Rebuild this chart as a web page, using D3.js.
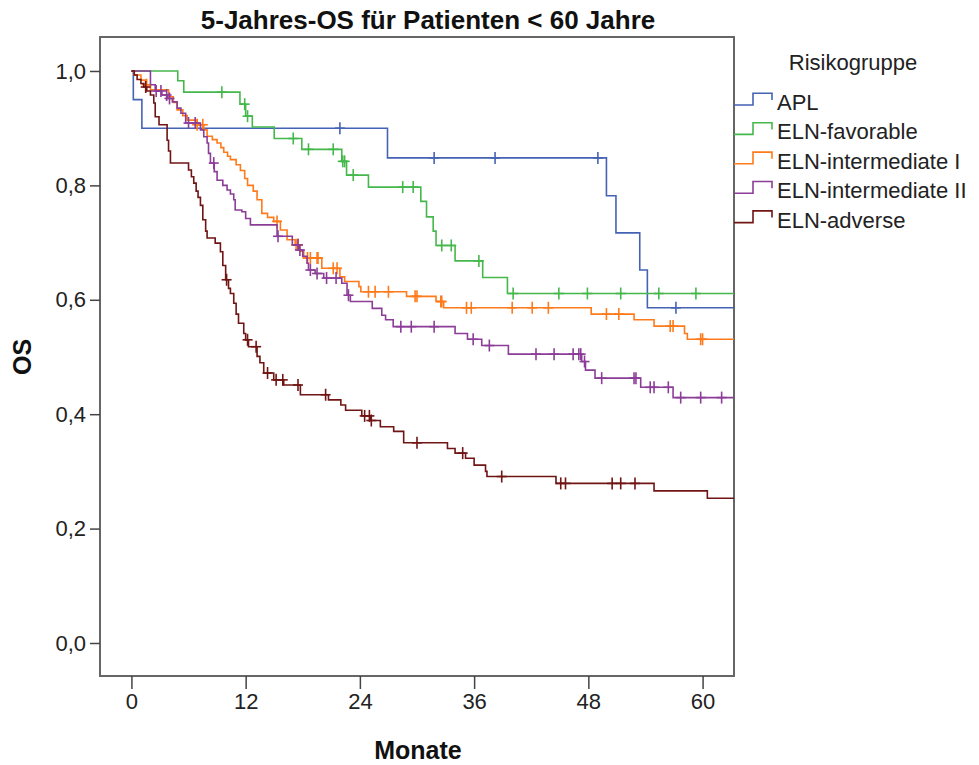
<!DOCTYPE html>
<html lang="de">
<head>
  <meta charset="UTF-8">
  <title>5-Jahres-OS für Patienten &lt; 60 Jahre</title>
  <script src="https://d3js.org/d3.v7.min.js"></script>
  <style>
    body { margin: 0; background: #fff; font-family: 'Liberation Sans', Arial, sans-serif; }
    .axis text { font-size: 22px; fill: #222; }
    .axis path, .axis line { stroke: #444; stroke-width: 1.5; }
    .title { font-size: 26px; font-weight: bold; fill: #111; }
    .axis-title { font-size: 25px; font-weight: bold; fill: #111; }
    .legend text { font-size: 22px; fill: #222; }
  </style>
</head>
<body>
<svg id="chart" width="979" height="765"></svg>
<script>
// Risikogruppen
const groups = ["APL", "ELN-favorable", "ELN-intermediate I", "ELN-intermediate II", "ELN-adverse"];
const colors = ["#4563b4", "#45b84b", "#ff7a1a", "#8c3d98", "#701414"];

// APL: Ereigniszeiten (Monate), Überleben danach, zensierte Zeiten
const aplT = [0.2, 1.1, 26.9, 49.9, 50.9, 53.4, 54.2];
const aplS = [0.95, 0.90, 0.848, 0.782, 0.717, 0.652, 0.586];
const aplC = [21.9, 31.8, 38.2, 49.0, 57.2];

const favT = [4.87, 5.5, 11.4, 12.0, 12.7, 15.0, 17.9, 22.1, 22.6, 24.9, 30.4, 31.0, 31.7, 32.0, 34.0, 36.9, 39.5];
const favS = [0.983, 0.963, 0.942, 0.921, 0.902, 0.882, 0.863, 0.842, 0.818, 0.797, 0.772, 0.745, 0.720, 0.695, 0.668, 0.639, 0.611];
const favC = [9.5, 11.9, 12.2, 17.0, 18.6, 21.2, 22.2, 22.4, 23.3, 28.5, 29.6, 32.6, 33.6, 36.5, 40.1, 44.9, 47.9, 51.4, 55.4, 59.3];

const int1T = [0.3, 1.0, 1.5, 2.0, 3.9, 4.4, 4.8, 5.4, 5.85, 6.9, 7.6, 7.95, 8.5, 9.0, 9.4, 9.7, 10.1, 10.4, 11.0, 11.45, 11.9, 12.2, 12.8, 13.2, 13.7, 14.3, 14.95, 15.65, 16.35, 17.2, 17.7, 18.1, 20.0, 21.9, 22.4, 23.9, 24.1, 28.9, 32.0, 32.8, 48.3, 52.8, 54.9, 58.1, 58.4];
const int1S = [0.993, 0.984, 0.976, 0.967, 0.955, 0.945, 0.932, 0.922, 0.914, 0.906, 0.897, 0.886, 0.880, 0.874, 0.866, 0.858, 0.851, 0.845, 0.836, 0.826, 0.812, 0.800, 0.790, 0.775, 0.751, 0.744, 0.737, 0.722, 0.705, 0.696, 0.685, 0.673, 0.655, 0.640, 0.632, 0.623, 0.614, 0.606, 0.597, 0.586, 0.575, 0.565, 0.554, 0.541, 0.531];
const int1C = [1.6, 6.9, 7.5, 15.3, 17.3, 17.5, 18.5, 18.8, 19.5, 19.6, 21.2, 21.6, 24.9, 25.6, 27.0, 29.8, 30.0, 32.5, 32.6, 35.2, 35.7, 40.0, 42.1, 43.8, 49.9, 51.2, 56.6, 56.9, 59.8, 60.0];

const int2T = [2.0, 2.5, 3.2, 3.8, 4.3, 4.8, 5.2, 5.7, 7.25, 7.6, 7.95, 8.1, 8.3, 8.7, 9.0, 9.6, 10.05, 10.4, 10.75, 10.9, 11.6, 12.0, 12.5, 15.3, 16.9, 17.6, 18.0, 18.45, 18.6, 19.3, 20.2, 22.1, 22.65, 23.0, 25.3, 26.3, 26.7, 27.5, 34.0, 35.3, 36.8, 39.6, 47.3, 47.7, 48.7, 53.5, 56.9];
const int2S = [0.976, 0.965, 0.958, 0.952, 0.946, 0.935, 0.926, 0.909, 0.897, 0.885, 0.874, 0.856, 0.839, 0.824, 0.809, 0.800, 0.792, 0.785, 0.775, 0.757, 0.754, 0.742, 0.731, 0.711, 0.696, 0.687, 0.676, 0.664, 0.652, 0.646, 0.638, 0.629, 0.608, 0.597, 0.585, 0.573, 0.565, 0.553, 0.541, 0.531, 0.520, 0.505, 0.492, 0.477, 0.463, 0.447, 0.429];
const int2C = [2.6, 3.1, 3.7, 4.0, 6.0, 6.7, 8.65, 15.4, 17.5, 17.7, 18.8, 19.5, 20.5, 21.5, 22.8, 28.3, 29.4, 31.8, 35.9, 37.6, 42.5, 44.4, 46.4, 47.0, 47.2, 47.6, 49.4, 52.8, 53.0, 54.5, 54.9, 56.4, 57.7, 59.8, 62.0];

const advT = [0.3, 0.6, 1.0, 1.3, 1.6, 2.0, 2.35, 2.5, 2.9, 3.75, 3.9, 4.1, 6.0, 6.3, 6.55, 6.8, 7.0, 7.25, 7.5, 7.8, 7.95, 8.8, 9.35, 9.6, 9.9, 10.2, 10.4, 10.75, 11.0, 11.25, 11.8, 12.0, 12.3, 13.2, 13.5, 13.9, 14.95, 16.0, 17.75, 20.7, 22.0, 22.5, 24.2, 25.1, 26.15, 27.55, 28.6, 33.2, 34.0, 35.1, 36.0, 37.2, 37.35, 44.6, 54.9, 60.5];
const advS = [0.993, 0.985, 0.978, 0.972, 0.965, 0.958, 0.944, 0.920, 0.906, 0.879, 0.860, 0.839, 0.827, 0.815, 0.804, 0.790, 0.779, 0.765, 0.740, 0.720, 0.708, 0.699, 0.684, 0.660, 0.635, 0.620, 0.611, 0.594, 0.575, 0.559, 0.541, 0.530, 0.518, 0.501, 0.490, 0.472, 0.460, 0.451, 0.434, 0.425, 0.416, 0.407, 0.397, 0.389, 0.378, 0.370, 0.350, 0.340, 0.332, 0.323, 0.311, 0.300, 0.291, 0.279, 0.266, 0.253];
const advC = [1.5, 10.0, 12.2, 13.1, 14.3, 15.2, 15.9, 17.5, 20.4, 24.5, 25.0, 25.2, 30.0, 34.8, 38.9, 45.1, 45.6, 50.5, 51.4, 52.9];

const xTicks = [0, 12, 24, 36, 48, 60];
const yTicks = [0, 0.2, 0.4, 0.6, 0.8, 1.0];

const series = [
  { t: aplT, s: aplS, c: aplC },
  { t: favT, s: favS, c: favC },
  { t: int1T, s: int1S, c: int1C },
  { t: int2T, s: int2S, c: int2C },
  { t: advT, s: advS, c: advC }
];

const svg = d3.select("#chart");
const pLeft = 100, pRight = 734, pTop = 37, pBottom = 676;

const x = d3.scaleLinear().domain([-3.3, 63.3]).range([pLeft, pRight]);
const y = d3.scaleLinear().domain([-0.0577, 1.0594]).range([pBottom, pTop]);

svg.append("defs").append("clipPath").attr("id", "plot")
  .append("rect").attr("x", pLeft).attr("y", pTop).attr("width", pRight - pLeft).attr("height", pBottom - pTop);

// Rahmen
svg.append("rect")
  .attr("x", pLeft).attr("y", pTop).attr("width", pRight - pLeft).attr("height", pBottom - pTop)
  .attr("fill", "none").attr("stroke", "#666").attr("stroke-width", 2);

// Achsen
svg.append("g").attr("class", "axis")
  .attr("transform", `translate(${pLeft},0)`)
  .call(d3.axisLeft(y).tickValues(yTicks).tickSize(10).tickPadding(4)
    .tickFormat(d => d3.format(".1f")(d).replace(".", ",")))
  .call(g => g.select(".domain").remove());

svg.append("g").attr("class", "axis")
  .attr("transform", `translate(0,${pBottom})`)
  .call(d3.axisBottom(x).tickValues(xTicks).tickSize(13).tickPadding(4))
  .call(g => g.select(".domain").remove());

const line = d3.line().curve(d3.curveStepAfter).x(d => x(d[0])).y(d => y(d[1]));

const survAt = (ser, t) => {
  let v = 1;
  ser.t.forEach((ti, i) => { if (ti <= t) v = ser.s[i]; });
  return v;
};

const curves = svg.append("g").attr("clip-path", "url(#plot)");

series.forEach((ser, k) => {
  const pts = [[0, 1]].concat(ser.t.map((t, i) => [t, ser.s[i]]));
  pts.push([64, ser.s[ser.s.length - 1]]);
  curves.append("path")
    .datum(pts)
    .attr("d", line)
    .attr("fill", "none")
    .attr("stroke", colors[k])
    .attr("stroke-width", 1.6);

  const marks = curves.append("g").attr("stroke", colors[k]).attr("stroke-width", 1.6);
  ser.c.forEach(t => {
    const cx = x(t), cy = y(survAt(ser, t));
    marks.append("line").attr("x1", cx).attr("x2", cx).attr("y1", cy - 6).attr("y2", cy + 6);
    marks.append("line").attr("x1", cx - 5).attr("x2", cx + 5).attr("y1", cy).attr("y2", cy);
  });
});

// Titel
svg.append("text").attr("class", "title")
  .attr("x", 428).attr("y", 29).attr("text-anchor", "middle")
  .text("5-Jahres-OS für Patienten < 60 Jahre");

svg.append("text").attr("class", "axis-title")
  .attr("x", 418).attr("y", 759).attr("text-anchor", "middle")
  .text("Monate");

svg.append("text").attr("class", "axis-title")
  .attr("transform", "translate(31,357) rotate(-90)")
  .attr("text-anchor", "middle")
  .text("OS");

// Legende
const legend = svg.append("g").attr("class", "legend");
legend.append("text").attr("x", 853).attr("y", 70).attr("text-anchor", "middle").text("Risikogruppe");

groups.forEach((name, i) => {
  const ly = 105 + i * 29.4;
  legend.append("path")
    .attr("d", `M734,${ly}H753V${ly - 11.7}H772V${ly - 5}`)
    .attr("fill", "none").attr("stroke", colors[i]).attr("stroke-width", 1.6);
  legend.append("text").attr("x", 777).attr("y", ly + 5).text(name);
});
</script>
</body>
</html>
